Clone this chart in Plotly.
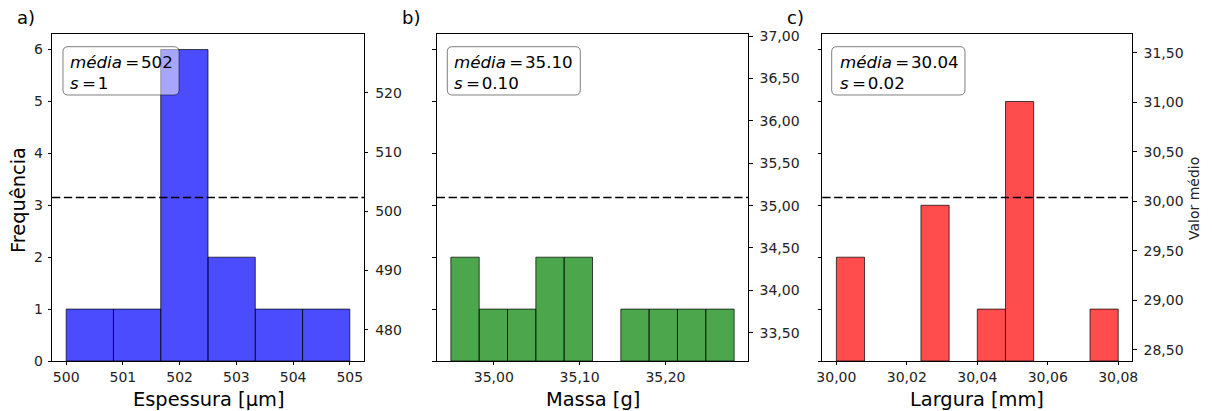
import numpy as np
import plotly.graph_objects as go

# Measurements (12 samples each)
espessura_um = [500, 501, 502, 502, 502, 502, 502, 502, 503, 503, 504, 505]
massa_g = [34.95, 34.97, 35.00, 35.04, 35.06, 35.07, 35.09, 35.11, 35.17, 35.19, 35.22, 35.28]
largura_mm = [30.00, 30.00, 30.03, 30.03, 30.03, 30.044, 30.05, 30.05, 30.05, 30.05, 30.05, 30.08]

n_bins = [6, 10, 10]
panel_tags = ["a)", "b)", "c)"]
x_titles = ["Espessura [µm]", "Massa [g]", "Largura [mm]"]
bar_colors = ["rgba(0,0,255,0.7)", "rgba(0,128,0,0.7)", "rgba(255,0,0,0.7)"]
decimals = [0, 2, 2]
x_dtick = [1, 0.1, 0.02]
x_fmt = ["d", ".2f", ".2f"]
right_dtick = [10, 0.5, 0.5]
right_fmt = ["d", ".2f", ".2f"]

# Figure geometry (pixels)
W, H = 1212, 411
AX_LEFT = [52.0, 436.7, 822.3]
AX_W = [312.0, 311.6, 310.0]
AX_TOP, AX_BOT = 34.0, 361.0
BOX_X = [(63.0, 179.0), (447.3, 580.3), (831.7, 965.0)]
BOX_Y = (46.7, 95.0)

FONT = "DejaVu Sans"
TICK_FONT = dict(family=FONT, size=14, color="#222")
LABEL_SIZE = 19.4
BOX_SIZE = 16.7
EQ = "\u2009=\u200a"


def px_x(x):
    return x / W


def px_y(y):
    return 1 - y / H


def rounded_box(x0, y0, x1, y1, r):
    pts = [
        ("M", (x0 + r, y0)), ("L", (x1 - r, y0)), ("Q", (x1, y0), (x1, y0 + r)),
        ("L", (x1, y1 - r)), ("Q", (x1, y1), (x1 - r, y1)),
        ("L", (x0 + r, y1)), ("Q", (x0, y1), (x0, y1 - r)),
        ("L", (x0, y0 + r)), ("Q", (x0, y0), (x0 + r, y0)),
    ]
    parts = []
    for p in pts:
        cmd = p[0]
        coords = " ".join(f"{px_x(a):.5f},{px_y(b):.5f}" for a, b in p[1:])
        parts.append(f"{cmd} {coords}")
    return " ".join(parts) + " Z"


datasets = [espessura_um, massa_g, largura_mm]
hists = [np.histogram(np.array(d, dtype=float), bins=nb) for d, nb in zip(datasets, n_bins)]
count_max = max(c.max() for c, _ in hists)
y_left_range = [0, 1.05 * count_max]

fig = go.Figure()
layout = dict(
    width=W, height=H,
    margin=dict(l=0, r=0, t=0, b=0),
    paper_bgcolor="white", plot_bgcolor="white",
    showlegend=False,
    separators=",.",
    font=dict(family=FONT, color="black"),
    shapes=[], annotations=[],
)

for i, (data, (counts, edges)) in enumerate(zip(datasets, hists)):
    k = i + 1
    xa = "x" if k == 1 else f"x{k}"
    ya = "y" if k == 1 else f"y{k}"
    yr = f"y{k + 3}"
    xname = "xaxis" if k == 1 else f"xaxis{k}"
    yname = "yaxis" if k == 1 else f"yaxis{k}"
    yrname = f"yaxis{k + 3}"

    centers = (edges[:-1] + edges[1:]) / 2
    widths = np.diff(edges)
    edge_w = [1 if c > 0 else 0 for c in counts]
    fig.add_trace(go.Bar(
        x=centers, y=counts, width=widths, xaxis=xa, yaxis=ya,
        marker=dict(color=bar_colors[i], line=dict(color="rgba(0,0,0,0.7)", width=edge_w)),
        hoverinfo="x+y",
    ))

    mean = float(np.mean(data))
    sd = float(np.std(data, ddof=1))

    # invisible trace so the right axis is instantiated
    fig.add_trace(go.Scatter(x=[edges[0]], y=[mean], xaxis=xa, yaxis=yr,
                             mode="markers", marker=dict(opacity=0), hoverinfo="skip"))

    span = edges[-1] - edges[0]
    x_range = [edges[0] - 0.05 * span, edges[-1] + 0.05 * span]
    lo, hi = mean - 0.05 * abs(mean), mean + 0.05 * abs(mean)
    pad = 0.05 * (hi - lo)
    r_range = [lo - pad, hi + pad]

    dom_x = [px_x(AX_LEFT[i]), px_x(AX_LEFT[i] + AX_W[i])]
    dom_y = [px_y(AX_BOT), px_y(AX_TOP)]

    axis_common = dict(showline=True, linecolor="black", linewidth=0.8,
                       ticks="outside", ticklen=3.5, tickwidth=0.8, tickcolor="black",
                       tickfont=TICK_FONT, showgrid=False, zeroline=False,
                       automargin=False, fixedrange=True)
    layout[xname] = dict(axis_common, domain=dom_x, range=x_range, anchor=ya,
                         mirror=True, tick0=0, dtick=x_dtick[i], tickformat=x_fmt[i])
    layout[yname] = dict(axis_common, domain=dom_y, range=y_left_range, anchor=xa,
                         dtick=1, tick0=0, showticklabels=(k == 1),
                         ticklabelstandoff=2)
    layout[yrname] = dict(axis_common, range=r_range, overlaying=ya, anchor=xa,
                          side="right", tick0=0, dtick=right_dtick[i],
                          tickformat=right_fmt[i], ticklabelstandoff=4)

    # mean line
    layout["shapes"].append(dict(
        type="line", xref=f"{xa} domain", yref=yr, x0=0, x1=1, y0=mean, y1=mean,
        line=dict(color="black", width=1.5, dash="8.3px,3.6px"), layer="above"))

    # stats box
    bx0, bx1 = BOX_X[i]
    layout["shapes"].append(dict(
        type="path", xref="paper", yref="paper",
        path=rounded_box(bx0, BOX_Y[0], bx1, BOX_Y[1], 5),
        fillcolor="rgba(255,255,255,0.5)", line=dict(color="rgba(0,0,0,0.5)", width=1),
        layer="above"))
    fmt = f"{{:.{decimals[i]}f}}"
    tx = px_x(AX_LEFT[i] + 0.05 * AX_W[i])
    layout["annotations"].append(dict(
        text=f"<i>média</i>{EQ}{fmt.format(mean)}", xref="paper", yref="paper",
        x=tx, y=px_y(62), xanchor="left", yanchor="middle", showarrow=False,
        font=dict(family=FONT, size=BOX_SIZE, color="black")))
    layout["annotations"].append(dict(
        text=f"<i>s</i>{EQ}{fmt.format(sd)}", xref="paper", yref="paper",
        x=tx, y=px_y(82.5), xanchor="left", yanchor="middle", showarrow=False,
        font=dict(family=FONT, size=BOX_SIZE, color="black")))

    # panel tag and x title
    layout["annotations"].append(dict(
        text=panel_tags[i], xref="paper", yref="paper",
        x=px_x(AX_LEFT[i] - 37), y=px_y(18), xanchor="left", yanchor="middle",
        showarrow=False, font=dict(family=FONT, size=18, color="black")))
    layout["annotations"].append(dict(
        text=x_titles[i], xref="paper", yref="paper",
        x=px_x(AX_LEFT[i] + AX_W[i] / 2), y=px_y(399), xanchor="center", yanchor="middle",
        showarrow=False, font=dict(family=FONT, size=LABEL_SIZE, color="black")))

layout["annotations"].append(dict(
    text="Frequência", xref="paper", yref="paper", x=px_x(18), y=px_y(200),
    xanchor="center", yanchor="middle", textangle=-90, showarrow=False,
    font=dict(family=FONT, size=LABEL_SIZE, color="black")))
layout["annotations"].append(dict(
    text="Valor médio", xref="paper", yref="paper", x=px_x(1194), y=px_y(199),
    xanchor="center", yanchor="middle", textangle=-90, showarrow=False,
    font=dict(family=FONT, size=14, color="#222")))

fig.update_layout(**layout)
fig.write_html("out.html", config={"displayModeBar": False})
